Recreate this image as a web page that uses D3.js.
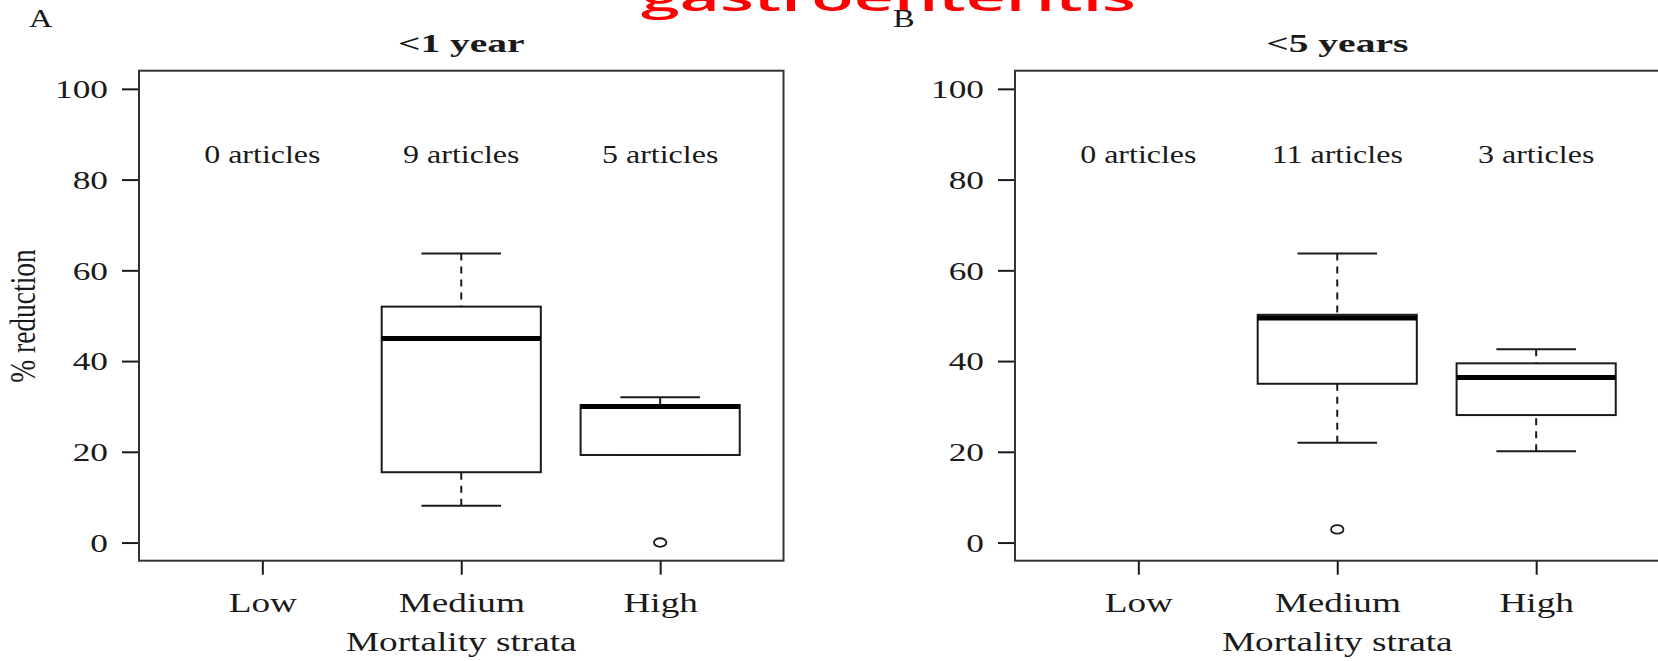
<!DOCTYPE html>
<html>
<head>
<meta charset="utf-8">
<script src="https://cdn.jsdelivr.net/npm/d3@7"></script>
<style>
  html, body { margin: 0; padding: 0; background: #ffffff; }
  svg { display: block; }
</style>
</head>
<body>
<svg id="chart" width="1658" height="661"></svg>
<script>
// ---------------- DATA ----------------
const categories = ["Low", "Medium", "High"];
const panelTitles = ["<1 year", "<5 years"];
const panelLetters = ["A", "B"];
const yTicks = [0, 20, 40, 60, 80, 100];
const articleCountsA = [0, 9, 5];
const articleCountsB = [0, 11, 3];
// box statistics per category: [lower whisker, Q1, median, Q3, upper whisker]
const boxStatsA = [null, [8.1, 15.5, 45.0, 52.0, 63.7], [19.3, 19.3, 30.0, 30.3, 32.0]];
const boxStatsB = [null, [22.0, 35.0, 49.5, 50.2, 63.7], [20.1, 28.1, 36.4, 39.5, 42.6]];
const outliersA = [[], [], [0]];
const outliersB = [[], [2.9], []];
const xAxisTitle = "Mortality strata";
const yAxisTitle = "% reduction";
const slideTitle = "gastroenteritis";

// ---------------- LAYOUT ----------------
const svg = d3.select("#chart");
const serif = "'Liberation Serif', 'DejaVu Serif', serif";
const ink = "#1a1a1a";
const panelShift = [0, 876];
const plotLeft = 139, plotW = 644.5, plotTop = 70.7, plotBottom = 560.7;
const sx = 1.36; // horizontal stretch of the reference image text

const x = d3.scaleLinear().domain([0.38, 3.62]).range([0, plotW]);
const y = d3.scaleLinear().domain([-4, 104]).range([plotBottom, plotTop]);

function stext(g, tx, ty, str, size, anchor, opts = {}) {
  const t = g.append("text")
    .attr("transform", `translate(${tx},${ty}) scale(${opts.sx || sx},1)` + (opts.rotate ? ` rotate(${opts.rotate})` : ""))
    .attr("text-anchor", anchor)
    .attr("font-family", opts.family || serif)
    .attr("font-size", size)
    .attr("font-weight", opts.weight || "normal")
    .attr("fill", opts.fill || ink)
    .text(str);
  return t;
}

// Slide title (cut off at top)
svg.append("text")
  .attr("x", 641).attr("y", 10.5)
  .attr("font-family", "'Open Sans', 'Liberation Sans', sans-serif")
  .attr("font-size", 38)
  .attr("font-weight", 600)
  .attr("fill", "#ff0000")
  .attr("textLength", 495)
  .attr("lengthAdjust", "spacingAndGlyphs")
  .text(slideTitle);

const panels = [
  { stats: boxStatsA, outs: outliersA, counts: articleCountsA },
  { stats: boxStatsB, outs: outliersB, counts: articleCountsB }
];

panels.forEach((p, pi) => {
  const g = svg.append("g").attr("transform", `translate(${plotLeft + panelShift[pi]},0)`);

  // panel letter
  stext(svg, pi === 0 ? 29 : 893, 26.5, panelLetters[pi], 25, "start", { sx: 1.3 });
  // panel title
  stext(g, x(2), 52, panelTitles[pi], 26, "middle", { weight: "bold", sx: 1.52 });

  // Y axis
  const ya = g.append("g").call(d3.axisLeft(y).tickValues(yTicks).tickSize(17).tickPadding(0));
  ya.select(".domain").remove();
  ya.selectAll(".tick line").attr("stroke", ink).attr("stroke-width", 2);
  ya.selectAll(".tick text").remove();
  ya.selectAll(".tick").each(function(d) {
    stext(d3.select(this), -31, 0, String(d), 26, "end").attr("dy", "0.34em");
  });

  // X axis
  const xa = g.append("g").attr("transform", `translate(0,${plotBottom})`)
    .call(d3.axisBottom(x).tickValues([1, 2, 3]).tickSize(14).tickFormat(i => categories[i - 1]));
  xa.select(".domain").remove();
  xa.selectAll(".tick line").attr("stroke", ink).attr("stroke-width", 2);
  xa.selectAll(".tick text").remove();
  xa.selectAll(".tick").each(function(d) {
    stext(d3.select(this), 0, 612 - plotBottom, categories[d - 1], 27, "middle", { sx: 1.38 });
  });

  // axis titles
  stext(g, x(2), 651, xAxisTitle, 27, "middle", { sx: 1.38 });
  if (pi === 0) {
    stext(svg, 35, 316, yAxisTitle, 27.5, "middle", { rotate: -90, sx: 1.3 });
  }

  // article counts
  p.counts.forEach((c, i) => {
    stext(g, x(i + 1), y(85) + 6, `${c} articles`, 25, "middle", { sx: 1.28 });
  });

  // boxes
  const half = x(1.4) - x(1);
  const capHalf = x(1.2) - x(1);
  p.stats.forEach((s, i) => {
    if (!s) return;
    const cx = x(i + 1);
    const bg = g.append("g");
    // whiskers (dashed) from whisker end toward the box
    bg.append("line").attr("x1", cx).attr("x2", cx).attr("y1", y(s[0])).attr("y2", y(s[1]))
      .attr("stroke", ink).attr("stroke-width", 2).attr("stroke-dasharray", "7,6");
    bg.append("line").attr("x1", cx).attr("x2", cx).attr("y1", y(s[4])).attr("y2", y(s[3]))
      .attr("stroke", ink).attr("stroke-width", 2).attr("stroke-dasharray", "7,6");
    // caps
    [s[0], s[4]].forEach(v => {
      bg.append("line").attr("x1", cx - capHalf).attr("x2", cx + capHalf).attr("y1", y(v)).attr("y2", y(v))
        .attr("stroke", ink).attr("stroke-width", 2);
    });
    // box
    bg.append("rect").attr("x", cx - half).attr("width", 2 * half)
      .attr("y", y(s[3])).attr("height", y(s[1]) - y(s[3]))
      .attr("fill", "#ffffff").attr("stroke", ink).attr("stroke-width", 2);
    // median
    bg.append("line").attr("x1", cx - half).attr("x2", cx + half).attr("y1", y(s[2])).attr("y2", y(s[2]))
      .attr("stroke", "#000").attr("stroke-width", 5);
  });

  // outliers
  p.outs.forEach((arr, i) => {
    arr.forEach(v => {
      g.append("ellipse").attr("cx", x(i + 1)).attr("cy", y(v)).attr("rx", 6.2).attr("ry", 4.3)
        .attr("fill", "none").attr("stroke", ink).attr("stroke-width", 1.8);
    });
  });

  // plot frame
  g.append("rect").attr("x", 0).attr("y", plotTop).attr("width", plotW).attr("height", plotBottom - plotTop)
    .attr("fill", "none").attr("stroke", "#333").attr("stroke-width", 2);
});
</script>
</body>
</html>
